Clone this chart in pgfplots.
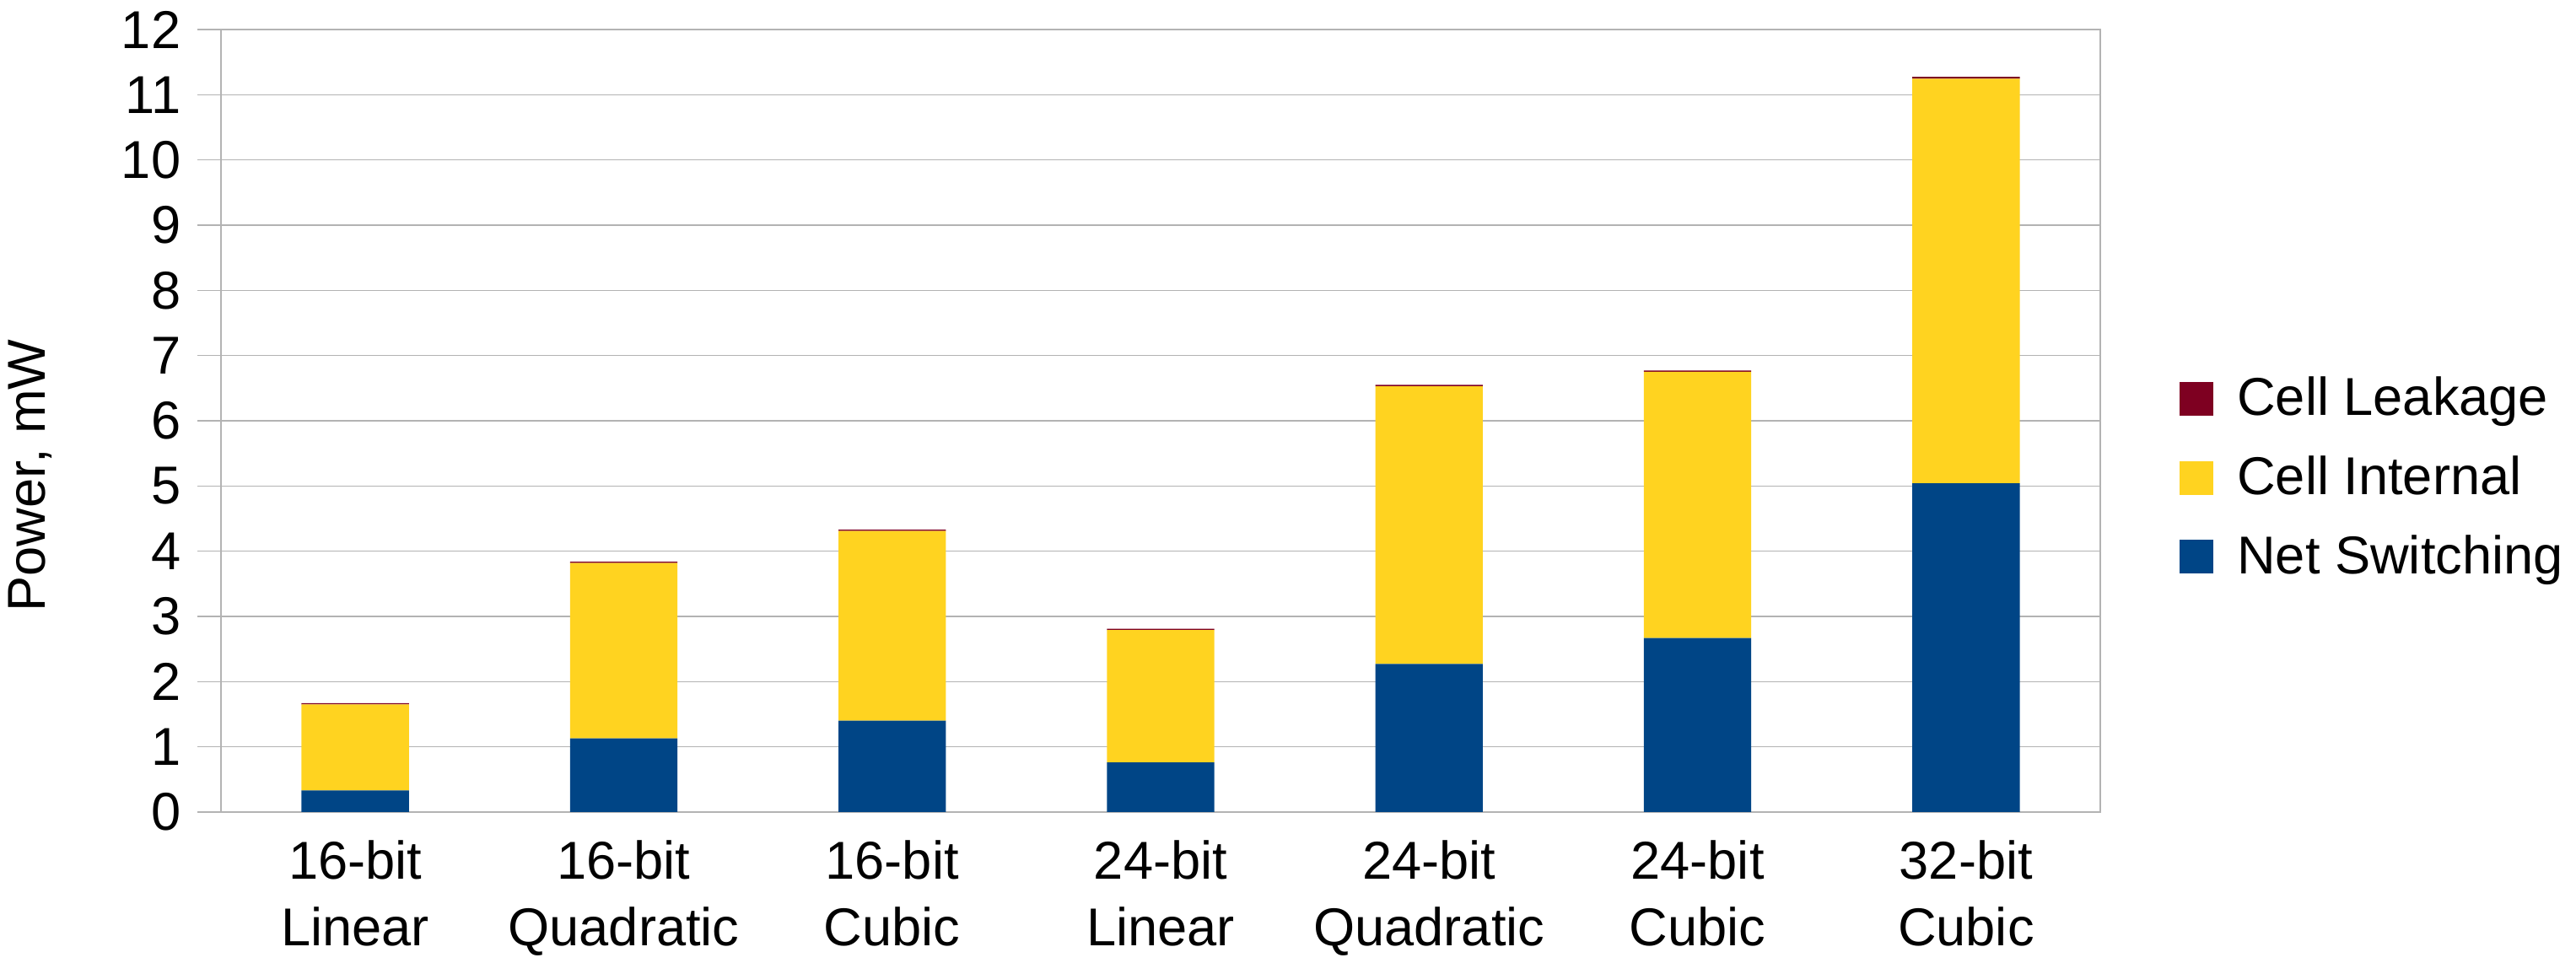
\documentclass[border=0pt]{standalone}
\usepackage{fontspec}
\setmainfont{Liberation Sans}
\usepackage{pgfplots}
\pgfplotsset{compat=1.18}

\definecolor{netsw}{HTML}{004586}
\definecolor{cellint}{HTML}{FFD320}
\definecolor{cellleak}{HTML}{7E0021}
\definecolor{gridgray}{HTML}{B3B3B3}

\newcommand{\chartfont}{\fontsize{15.8bp}{19.75bp}\selectfont}

\begin{document}
\begin{tikzpicture}
  \useasboundingbox (-65.5bp,-44.75bp) rectangle (698bp,240.75bp);
  \begin{axis}[
      scale only axis,
      width=557bp, height=232bp,
      ybar stacked,
      bar width=0.4,
      xmin=-0.5, xmax=6.5,
      ymin=0, ymax=12,
      ytick={0,1,...,12},
      xtick={0,1,...,6},
      xticklabels={{16-bit\\Linear},{16-bit\\Quadratic},{16-bit\\Cubic},
                   {24-bit\\Linear},{24-bit\\Quadratic},{24-bit\\Cubic},
                   {32-bit\\Cubic}},
      ymajorgrids,
      grid style={draw=gridgray, line width=0.4bp},
      axis line style={draw=gridgray, line width=0.4bp},
      x tick style={draw=none},
      y tick style={draw=gridgray, line width=0.4bp},
      ytick align=outside,
      ytick pos=left,
      major tick length=7bp,
      /pgf/number format/assume math mode=true,
      ticklabel style={font=\chartfont},
      xticklabel style={align=center, anchor=north, inner sep=0pt, yshift=-8.25bp},
      yticklabel style={inner sep=0pt, anchor=east, xshift=-4.75bp},
      ylabel={Power, mW},
      ylabel style={font=\chartfont, at={(axis description cs:-0.1014,0.43)},
                    anchor=center},
      legend style={at={(axis description cs:1.042,0.427)}, anchor=west,
                    draw=none, fill=none, font=\chartfont,
                    row sep=6.5bp, inner sep=0pt,
                    /tikz/every odd column/.append style={column sep=5bp}},
      legend cell align=left,
      reverse legend,
      legend image code/.code={\fill[#1] (0bp,-5bp) rectangle (10bp,5bp);},
      every axis plot/.append style={draw=none},
    ]
    \addplot[fill=netsw] coordinates {(0,0.33) (1,1.13) (2,1.40) (3,0.76) (4,2.27) (5,2.67) (6,5.04)};
    \addplot[fill=cellint] coordinates {(0,1.32) (1,2.69) (2,2.91) (3,2.03) (4,4.26) (5,4.08) (6,6.205)};
    \addplot[fill=cellleak] coordinates {(0,0.02) (1,0.02) (2,0.02) (3,0.02) (4,0.02) (5,0.02) (6,0.03)};
    \legend{Net Switching, Cell Internal, Cell Leakage}
  \end{axis}
\end{tikzpicture}
\end{document}
